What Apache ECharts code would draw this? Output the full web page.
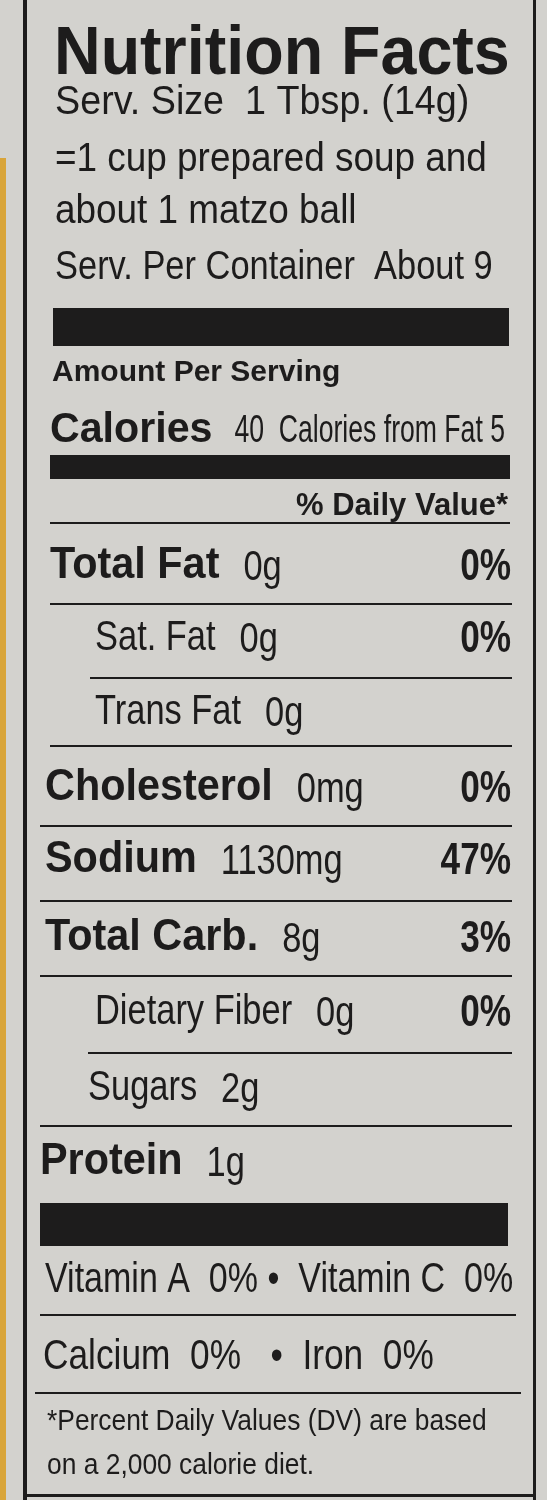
<!DOCTYPE html>
<html>
<head>
<meta charset="UTF-8">
<script src="https://cdn.jsdelivr.net/npm/echarts@6/dist/echarts.min.js"></script>
<style>body{margin:0;background:#d3d2ce}</style>
</head>
<body>
<div id="label" style="width:547px;height:1500px"></div>
<script>
// nutrient rows
let nutrients = ['Total Fat', 'Sat. Fat', 'Trans Fat', 'Cholesterol', 'Sodium', 'Total Carb.', 'Dietary Fiber', 'Sugars', 'Protein'];
let amounts = ['0g', '0g', '0g', '0mg', '1130mg', '8g', '0g', '2g', '1g'];
let dailyValues = ['0%', '0%', '', '0%', '47%', '3%', '0%', '', ''];
let boldRow = [true, false, false, true, true, true, false, false, true];
let rowY = [566, 638, 712, 788, 860, 938, 1012, 1088, 1162];
let rowX = [50, 95, 95, 45, 45, 45, 95, 88, 40];
let lineY = [603, 677, 745, 825, 900, 975, 1052, 1125];
let lineX = [50, 90, 50, 40, 40, 40, 88, 40];

let servLines = ['Serv. Size  1 Tbsp. (14g)', '=1 cup prepared soup and', 'about 1 matzo ball', 'Serv. Per Container  About 9'];
let servY = [103, 160, 212, 268];
let servScale = [0.92, 0.9, 0.9, 0.84];

let ink = '#1d1c1c';
let font = '"Liberation Sans", sans-serif';

let ctx = document.createElement('canvas').getContext('2d');
function width(s, size, isBold, sx) {
    ctx.font = (isBold ? 'bold ' : '') + size + 'px ' + font;
    return ctx.measureText(s).width * sx;
}
function txt(x, y, s, size, isBold, sx, align) {
    return {
        type: 'text', x: x, y: y, scaleX: sx,
        style: {
            text: s, fill: ink, fontSize: size, fontFamily: font,
            fontWeight: isBold ? 'bold' : 'normal', textAlign: align || 'left', textVerticalAlign: 'middle'
        }
    };
}
function rect(x, y, w, h) {
    return {type: 'rect', shape: {x: x, y: y, width: w, height: h}, style: {fill: ink}};
}

let els = [];
els.push({type: 'rect', shape: {x: 0, y: 158, width: 6, height: 1342}, style: {fill: '#d9a53a'}});
els.push(rect(23, 0, 4, 1500));
els.push(rect(533, 0, 3, 1500));
els.push(txt(54, 55, 'Nutrition Facts', 68, true, 0.95));
servLines.forEach(function (s, i) {
    els.push(txt(55, servY[i], s, 41, false, servScale[i]));
});
els.push(rect(53, 308, 456, 38));
els.push(txt(52, 373, 'Amount Per Serving', 30, true, 1));
els.push(txt(50, 430, 'Calories', 42, true, 0.98));
els.push(txt(72 + width('Calories', 42, true, 0.98), 432, '40  Calories from Fat 5', 38, false, 0.7));
els.push(rect(50, 455, 460, 24));
els.push(txt(508, 506, '% Daily Value*', 31, true, 1, 'right'));
els.push(rect(50, 522, 460, 2));

nutrients.forEach(function (n, i) {
    let b = boldRow[i];
    let size = b ? 45 : 42, sx = b ? 0.92 : 0.82;
    els.push(txt(rowX[i], rowY[i], n, size, b, sx));
    els.push(txt(rowX[i] + width(n, size, b, sx) + 24, rowY[i] + 2, amounts[i], 42, false, 0.82));
    if (dailyValues[i]) els.push(txt(511, rowY[i] + 2, dailyValues[i], 44, true, 0.8, 'right'));
    if (i < lineY.length) els.push(rect(lineX[i], lineY[i], 512 - lineX[i], 2));
});

els.push(rect(40, 1203, 468, 43));
els.push(txt(45, 1280, 'Vitamin A  0% \u2022  Vitamin C  0%', 42, false, 0.81));
els.push(rect(40, 1314, 476, 2));
els.push(txt(43, 1357, 'Calcium  0%   \u2022  Iron  0%', 42, false, 0.84));
els.push(rect(35, 1392, 486, 2));
els.push(txt(47, 1422, '*Percent Daily Values (DV) are based', 30, false, 0.88));
els.push(txt(47, 1466, 'on a 2,000 calorie diet.', 30, false, 0.88));
els.push(rect(23, 1494, 513, 3));

let chart = echarts.init(document.getElementById('label'));
chart.setOption({backgroundColor: '#d3d2ce', graphic: {elements: els}});
</script>
</body>
</html>
